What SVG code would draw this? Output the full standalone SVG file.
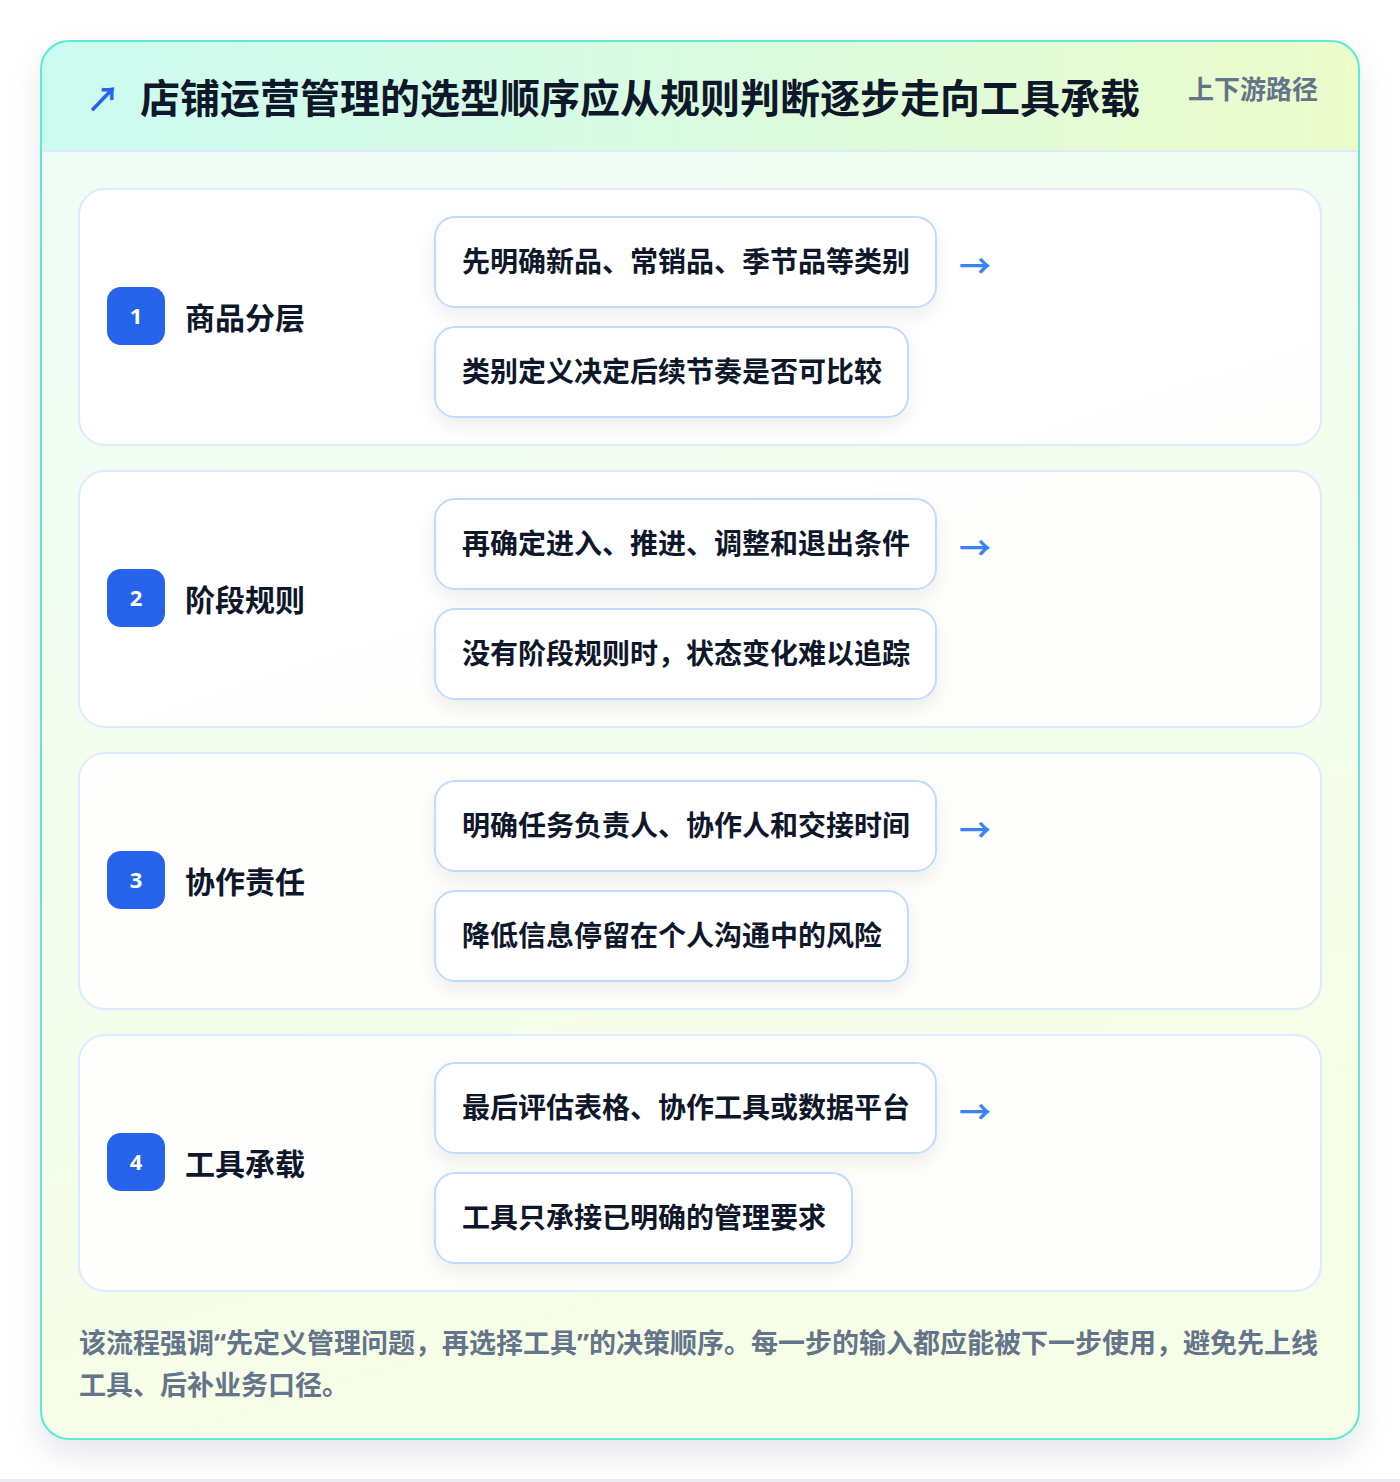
<svg xmlns="http://www.w3.org/2000/svg" width="1400" height="1482" viewBox="0 0 1400 1482">
<defs>
  <linearGradient id="hdr" x1="0" y1="0" x2="1" y2="0">
    <stop offset="0" stop-color="#ccfbf1"/>
    <stop offset="0.5" stop-color="#d9fbe0"/>
    <stop offset="1" stop-color="#ecfccb"/>
  </linearGradient>
  <linearGradient id="body" x1="0" y1="0" x2="0.3" y2="1">
    <stop offset="0" stop-color="#effdf7"/>
    <stop offset="1" stop-color="#f7fee7"/>
  </linearGradient>
  <filter id="cardShadow" x="-10%" y="-10%" width="120%" height="120%">
    <feDropShadow dx="0" dy="14" stdDeviation="16" flood-color="#0f172a" flood-opacity="0.10"/>
  </filter>
  <filter id="boxShadow" x="-15%" y="-30%" width="130%" height="170%">
    <feDropShadow dx="0" dy="8" stdDeviation="9" flood-color="#0f172a" flood-opacity="0.07"/>
  </filter>
  <clipPath id="cardClip"><rect x="41" y="41" width="1318" height="1398" rx="28"/></clipPath>
  <style>
    .cjk { font-family: "Noto Sans CJK SC", "Noto Sans", sans-serif; font-weight: 700; }
    .lat { font-family: "Noto Sans", "Liberation Sans", sans-serif; }
    .row { fill: #ffffff; fill-opacity: 0.88; stroke: #dbeafe; stroke-width: 2; }
    .badge { fill: #2563eb; }
    .num { fill: #ffffff; font-family: "Noto Sans", "Liberation Sans", sans-serif; font-weight: 700; font-size: 22px; }
    .label { fill: #0f172a; font-size: 30px; }
    .box { fill: #ffffff; stroke: #bfdbfe; stroke-width: 2; }
    .item { fill: #0f172a; font-size: 28px; }
    .arrow { fill: #3b82f6; font-size: 32px; }
    .foot { fill: #64748b; font-size: 27px; }
  </style>
</defs>
<rect x="0" y="0" width="1400" height="1482" fill="#ffffff"/>
<rect x="0" y="1479" width="1400" height="3" fill="#ececf2"/>

<g id="card">
  <rect x="41" y="41" width="1318" height="1398" rx="28" fill="url(#body)" filter="url(#cardShadow)"/>
  <g clip-path="url(#cardClip)">
    <rect x="41" y="41" width="1318" height="110" fill="url(#hdr)"/>
    <rect x="41" y="150" width="1318" height="2" fill="#dbeafe"/>
  </g>
  <rect x="41" y="41" width="1318" height="1398" rx="28" fill="none" stroke="#5eead4" stroke-width="2"/>
</g>

<g id="header">
  <text x="86" y="112" class="cjk" font-size="34" fill="#2563eb">↗</text>
  <text x="140" y="113" class="cjk" font-size="40" fill="#0f172a">店铺运营管理的选型顺序应从规则判断逐步走向工具承载</text>
  <text x="1188" y="99" class="cjk" font-size="26" fill="#64748b">上下游路径</text>
</g>

<g id="step1">
  <rect class="row" x="79" y="189" width="1242" height="256" rx="26"/>
  <rect class="badge" x="107" y="287" width="58" height="58" rx="14"/>
  <text class="num" x="136" y="324" text-anchor="middle">1</text>
  <text class="cjk label" x="185" y="329">商品分层</text>
  <rect class="box" x="435" y="217" width="501" height="90" rx="20" filter="url(#boxShadow)"/>
  <text class="cjk item" x="462" y="272">先明确新品、常销品、季节品等类别</text>
  <rect class="box" x="435" y="327" width="473" height="90" rx="20" filter="url(#boxShadow)"/>
  <text class="cjk item" x="462" y="382">类别定义决定后续节奏是否可比较</text>
</g>

<g id="step2">
  <rect class="row" x="79" y="471" width="1242" height="256" rx="26"/>
  <rect class="badge" x="107" y="569" width="58" height="58" rx="14"/>
  <text class="num" x="136" y="606" text-anchor="middle">2</text>
  <text class="cjk label" x="185" y="611">阶段规则</text>
  <rect class="box" x="435" y="499" width="501" height="90" rx="20" filter="url(#boxShadow)"/>
  <text class="cjk item" x="462" y="554">再确定进入、推进、调整和退出条件</text>
  <rect class="box" x="435" y="609" width="501" height="90" rx="20" filter="url(#boxShadow)"/>
  <text class="cjk item" x="462" y="664">没有阶段规则时，状态变化难以追踪</text>
</g>

<g id="step3">
  <rect class="row" x="79" y="753" width="1242" height="256" rx="26"/>
  <rect class="badge" x="107" y="851" width="58" height="58" rx="14"/>
  <text class="num" x="136" y="888" text-anchor="middle">3</text>
  <text class="cjk label" x="185" y="893">协作责任</text>
  <rect class="box" x="435" y="781" width="501" height="90" rx="20" filter="url(#boxShadow)"/>
  <text class="cjk item" x="462" y="836">明确任务负责人、协作人和交接时间</text>
  <rect class="box" x="435" y="891" width="473" height="90" rx="20" filter="url(#boxShadow)"/>
  <text class="cjk item" x="462" y="946">降低信息停留在个人沟通中的风险</text>
</g>

<g id="step4">
  <rect class="row" x="79" y="1035" width="1242" height="256" rx="26"/>
  <rect class="badge" x="107" y="1133" width="58" height="58" rx="14"/>
  <text class="num" x="136" y="1170" text-anchor="middle">4</text>
  <text class="cjk label" x="185" y="1175">工具承载</text>
  <rect class="box" x="435" y="1063" width="501" height="90" rx="20" filter="url(#boxShadow)"/>
  <text class="cjk item" x="462" y="1118">最后评估表格、协作工具或数据平台</text>
  <rect class="box" x="435" y="1173" width="417" height="90" rx="20" filter="url(#boxShadow)"/>
  <text class="cjk item" x="462" y="1228">工具只承接已明确的管理要求</text>
</g>

<g id="connectors">
  <text class="cjk arrow" x="959" y="278">→</text>
  <text class="cjk arrow" x="959" y="560">→</text>
  <text class="cjk arrow" x="959" y="842">→</text>
  <text class="cjk arrow" x="959" y="1124">→</text>
</g>

<g id="footer">
  <text class="cjk foot" x="79" y="1353">该流程强调<tspan class="lat">“</tspan>先定义管理问题，再选择工具<tspan class="lat">”</tspan>的决策顺序。每一步的输入都应能被下一步使用，避免先上线</text>
  <text class="cjk foot" x="79" y="1395">工具、后补业务口径。</text>
</g>
</svg>
